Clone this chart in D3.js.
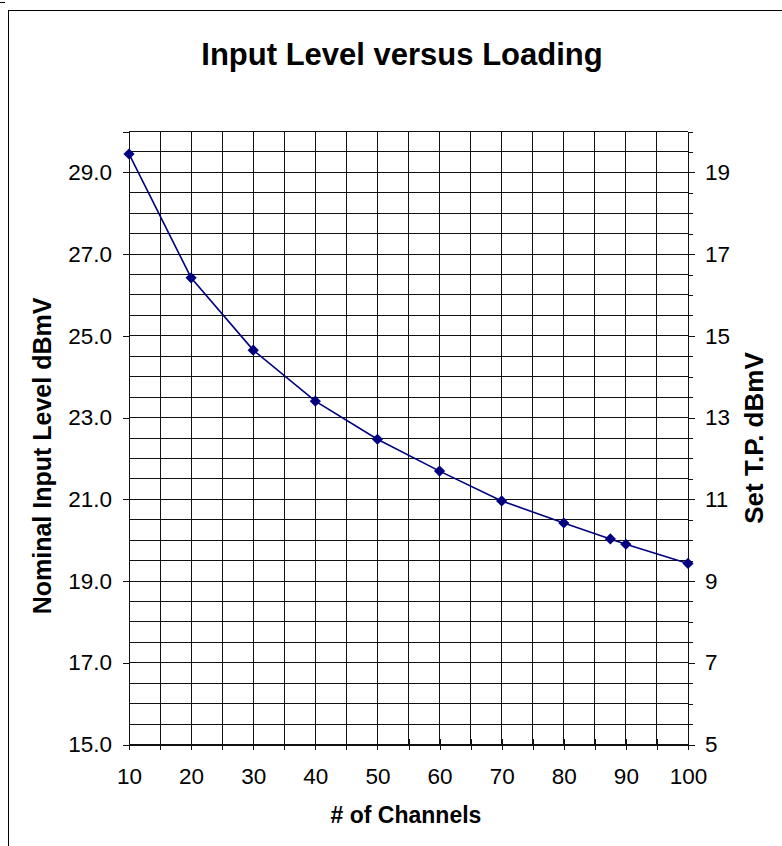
<!DOCTYPE html>
<html>
<head>
<meta charset="utf-8">
<script src="https://cdn.jsdelivr.net/npm/d3@7"></script>
<style>
  body { margin: 0; background: #fff; }
  text { font-family: "Liberation Sans", Arial, sans-serif; }
</style>
</head>
<body>
<svg id="chart"></svg>
<script>
// Data
const channels = [10, 20, 30, 40, 50, 60, 70, 80, 87.5, 90, 100];
const inputLevel = [29.45, 26.42, 24.65, 23.4, 22.47, 21.69, 20.96, 20.42, 20.03, 19.9, 19.43];
const xTicks = [10, 20, 30, 40, 50, 60, 70, 80, 90, 100];
const leftTicks = [15, 17, 19, 21, 23, 25, 27, 29];
const rightTicks = [5, 7, 9, 11, 13, 15, 17, 19];

const data = channels.map((c, i) => ({ ch: c, level: inputLevel[i] }));

// Chart Dimensions
const width = 782;
const height = 846;
const plotLeft = 129, plotRight = 688, plotTop = 131.5, plotBottom = 744.5;

const svg = d3.select("#chart").attr("width", width).attr("height", height);

// Chart area frame
svg.append("rect")
  .attr("x", 8.5).attr("y", 10.5)
  .attr("width", 900).attr("height", 900)
  .attr("fill", "none").attr("stroke", "#000");
svg.append("line")
  .attr("x1", 0).attr("x2", 5).attr("y1", 2.5).attr("y2", 2.5)
  .attr("stroke", "#000");

// Scales
const xScale = d3.scaleLinear().domain([10, 100]).range([plotLeft, plotRight]);
const yScale = d3.scaleLinear().domain([15, 30]).range([plotBottom, plotTop]);
const y2Scale = d3.scaleLinear().domain([5, 20]).range([plotBottom, plotTop]);

// Grid
const grid = svg.append("g").attr("shape-rendering", "crispEdges").attr("stroke", "#111");
grid.selectAll(".hgrid")
  .data(d3.range(15, 30.01, 0.5))
  .enter().append("line")
  .attr("x1", plotLeft).attr("x2", plotRight)
  .attr("y1", (d) => yScale(d)).attr("y2", (d) => yScale(d));
grid.selectAll(".vgrid")
  .data(d3.range(10, 100.01, 5))
  .enter().append("line")
  .attr("y1", plotTop).attr("y2", plotBottom)
  .attr("x1", (d) => xScale(d)).attr("x2", (d) => xScale(d));

// Axes
const fontSize = 22.5;

const xAxis = svg.append("g")
  .attr("transform", `translate(0, ${plotBottom})`)
  .call(d3.axisBottom(xScale).tickValues(d3.range(10, 101, 5))
    .tickSize(5).tickPadding(18.5)
    .tickFormat((d) => (xTicks.includes(d) ? d : "")));
xAxis.selectAll(".tick line").attr("y1", -6);

const yAxis = svg.append("g")
  .attr("transform", `translate(${plotLeft}, 0)`)
  .call(d3.axisLeft(yScale).tickValues(leftTicks)
    .tickSize(6).tickPadding(11).tickFormat(d3.format(".1f")));

const y2Axis = svg.append("g")
  .attr("transform", `translate(${plotRight}, 0)`)
  .call(d3.axisRight(y2Scale).tickValues(d3.range(5, 20.01, 0.5))
    .tickSize(5).tickPadding(12)
    .tickFormat((d) => (rightTicks.includes(d) ? d : "")));
y2Axis.selectAll(".tick line").attr("x2", (d) => (rightTicks.includes(d) ? 7 : 5));

[xAxis, yAxis, y2Axis].forEach((g) => {
  g.attr("shape-rendering", "crispEdges");
  g.select(".domain").attr("stroke", "#111");
  g.selectAll(".tick line").attr("stroke", "#111");
  g.selectAll(".tick text")
    .attr("fill", "#000")
    .style("font-size", fontSize + "px")
    .style("font-family", '"Liberation Sans", Arial, sans-serif');
});

// Line and markers
const line = d3.line().x((d) => xScale(d.ch)).y((d) => yScale(d.level));
svg.append("path")
  .datum(data)
  .attr("d", line)
  .attr("fill", "none")
  .attr("stroke", "#000080")
  .attr("stroke-width", 1.6);

svg.selectAll(".marker")
  .data(data)
  .enter().append("path")
  .attr("class", "marker")
  .attr("d", d3.symbol(d3.symbolDiamond2, 80))
  .attr("transform", (d) => `translate(${xScale(d.ch)}, ${yScale(d.level)})`)
  .attr("fill", "#000080");

// Titles
svg.append("text")
  .attr("x", 402).attr("y", 65)
  .attr("text-anchor", "middle")
  .style("font-size", "31px").style("font-weight", "bold")
  .text("Input Level versus Loading");

svg.append("text")
  .attr("x", 406).attr("y", 823)
  .attr("text-anchor", "middle")
  .style("font-size", "23px").style("font-weight", "bold")
  .text("# of Channels");

svg.append("text")
  .attr("transform", "translate(51, 456) rotate(-90)")
  .attr("text-anchor", "middle")
  .style("font-size", "25px").style("font-weight", "bold")
  .text("Nominal Input Level dBmV");

svg.append("text")
  .attr("transform", "translate(763, 438) rotate(-90)")
  .attr("text-anchor", "middle")
  .style("font-size", "26px").style("font-weight", "bold")
  .text("Set T.P. dBmV");
</script>
</body>
</html>
